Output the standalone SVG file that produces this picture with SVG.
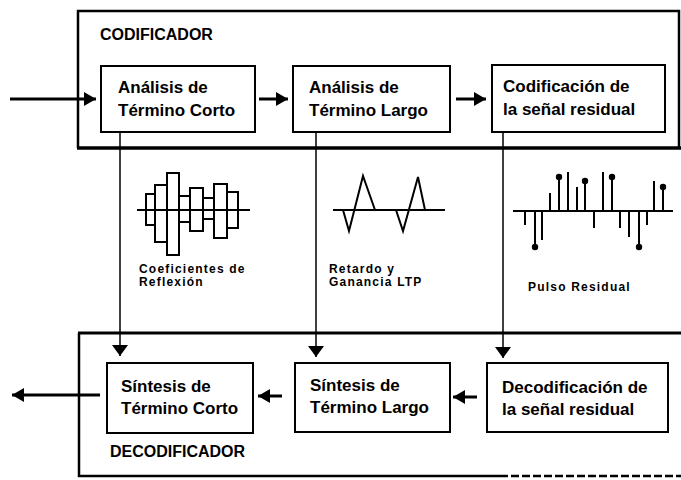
<svg xmlns="http://www.w3.org/2000/svg" width="681" height="480" viewBox="0 0 681 480">
<style>
.box{fill:#fff;stroke:#000;stroke-width:2}
.frame{fill:none;stroke:#000}
.t{font-family:"Liberation Sans",Arial,sans-serif;font-weight:bold;font-size:17px;fill:#000}
.title{font-family:"Liberation Sans",Arial,sans-serif;font-weight:bold;font-size:16px;fill:#000}
.lbl{font-family:"Liberation Sans",Arial,sans-serif;font-weight:900;font-size:12px;letter-spacing:1.2px;fill:#000}
.h{stroke:#000;stroke-width:3;fill:none}
.v{stroke:#000;stroke-width:1.5;fill:none}
.w{stroke:#000;stroke-width:2;fill:none}
.s{stroke:#000;stroke-width:2}
</style>
<defs>
<marker id="ah" markerUnits="userSpaceOnUse" markerWidth="13" markerHeight="14" refX="12" refY="7" orient="auto"><path d="M0,0 L12,7 L0,14 Z" fill="#000"/></marker>
<marker id="av" markerUnits="userSpaceOnUse" markerWidth="12" markerHeight="16" refX="11" refY="8" orient="auto"><path d="M0,0 L11,8 L0,16 Z" fill="#000"/></marker>
</defs>

<g id="codificador">
<path class="frame" stroke-width="2.5" d="M78,148 L78,11 L679,11 L679,148"/>
<line class="frame" stroke-width="3.5" x1="77" y1="148" x2="681" y2="148"/>
<text class="title" x="100" y="40">CODIFICADOR</text>
</g>

<g id="decodificador">
<line class="frame" stroke-width="3" x1="78" y1="333" x2="681" y2="333"/>
<path class="frame" stroke-width="2.5" d="M79,333 L79,476 L500,476"/>
<line class="frame" stroke-width="2.5" stroke-dasharray="8,3" x1="500" y1="476" x2="681" y2="476"/>
<text class="title" x="110" y="457">DECODIFICADOR</text>
</g>

<g id="e1">
<rect class="box" x="101" y="66" width="154" height="66"/>
<text class="t" x="118" y="93">Análisis de</text>
<text class="t" x="118" y="116">Término Corto</text>
</g>
<g id="e2">
<rect class="box" x="293" y="66" width="157" height="66"/>
<text class="t" x="309" y="93">Análisis de</text>
<text class="t" x="309" y="116">Término Largo</text>
</g>
<g id="e3">
<rect class="box" x="492" y="65" width="173" height="67"/>
<text class="t" x="503" y="92">Codificación de</text>
<text class="t" x="503" y="115">la señal residual</text>
</g>

<g id="d1">
<rect class="box" x="107" y="363" width="146" height="70"/>
<text class="t" x="121" y="392">Síntesis de</text>
<text class="t" x="121" y="414">Término Corto</text>
</g>
<g id="d2">
<rect class="box" x="295" y="363" width="155" height="69"/>
<text class="t" x="310" y="391">Síntesis de</text>
<text class="t" x="310" y="413">Término Largo</text>
</g>
<g id="d3">
<rect class="box" x="487" y="363" width="181" height="69"/>
<text class="t" x="502" y="393">Decodificación de</text>
<text class="t" x="502" y="415">la señal residual</text>
</g>

<g id="connectors">
<line class="h" x1="10" y1="99" x2="96" y2="99" marker-end="url(#ah)"/>
<line class="h" x1="259" y1="99" x2="288" y2="99" marker-end="url(#ah)"/>
<line class="h" x1="456" y1="99" x2="486" y2="99" marker-end="url(#ah)"/>
<line class="v" x1="120" y1="132" x2="120" y2="356" marker-end="url(#av)"/>
<line class="v" x1="316" y1="132" x2="316" y2="357" marker-end="url(#av)"/>
<line class="v" x1="503" y1="132" x2="503" y2="358" marker-end="url(#av)"/>
<line class="h" x1="100" y1="395" x2="12" y2="395" marker-end="url(#ah)"/>
<line class="h" x1="282" y1="396" x2="258" y2="396" marker-end="url(#ah)"/>
<line class="h" x1="477" y1="397" x2="453" y2="397" marker-end="url(#ah)"/>
</g>

<g id="reflexion">
<line class="w" x1="137" y1="210" x2="250" y2="210"/>
<rect class="w" x="146" y="194" width="9" height="31"/>
<rect class="w" x="155" y="185" width="12" height="57"/>
<rect class="w" x="167" y="173" width="12" height="82"/>
<rect class="w" x="179" y="196" width="11" height="26"/>
<rect class="w" x="190" y="188" width="13" height="43"/>
<rect class="w" x="203" y="198" width="11" height="21"/>
<rect class="w" x="214" y="184" width="13" height="54"/>
<rect class="w" x="227" y="192" width="11" height="36"/>
<text class="lbl" x="139" y="273">Coeficientes de</text>
<text class="lbl" x="139" y="286">Reflexión</text>
</g>

<g id="ltp">
<line class="w" x1="333" y1="210" x2="445" y2="210"/>
<path class="w" d="M343,210 L349,231 L363,176 L375,210"/>
<path class="w" d="M396,210 L403,231 L418,177 L425,210"/>
<text class="lbl" x="329" y="273">Retardo y</text>
<text class="lbl" x="329" y="286">Ganancia LTP</text>
</g>

<g id="pulso">
<line class="w" x1="513" y1="211" x2="673" y2="211"/>
<g class="s">
<line x1="525" y1="211" x2="525" y2="225"/>
<line x1="535" y1="211" x2="535" y2="247"/>
<line x1="542" y1="211" x2="542" y2="240"/>
<line x1="594" y1="211" x2="594" y2="228"/>
<line x1="620" y1="211" x2="620" y2="228"/>
<line x1="629" y1="211" x2="629" y2="237"/>
<line x1="639" y1="211" x2="639" y2="247"/>
<line x1="647" y1="211" x2="647" y2="225"/>
<line x1="550" y1="211" x2="550" y2="193"/>
<line x1="559" y1="211" x2="559" y2="177"/>
<line x1="568" y1="211" x2="568" y2="172"/>
<line x1="577" y1="211" x2="577" y2="187"/>
<line x1="585" y1="211" x2="585" y2="181"/>
<line x1="603" y1="211" x2="603" y2="172"/>
<line x1="612" y1="211" x2="612" y2="177"/>
<line x1="654" y1="211" x2="654" y2="181"/>
<line x1="663" y1="211" x2="663" y2="187"/>
</g>
<circle cx="535" cy="247" r="3.2"/>
<circle cx="639" cy="247" r="3.2"/>
<circle cx="559" cy="177" r="3.2"/>
<circle cx="585" cy="181" r="3.2"/>
<circle cx="612" cy="177" r="3.2"/>
<circle cx="663" cy="187" r="3.2"/>
<text class="lbl" x="528" y="291">Pulso Residual</text>
</g>
</svg>
